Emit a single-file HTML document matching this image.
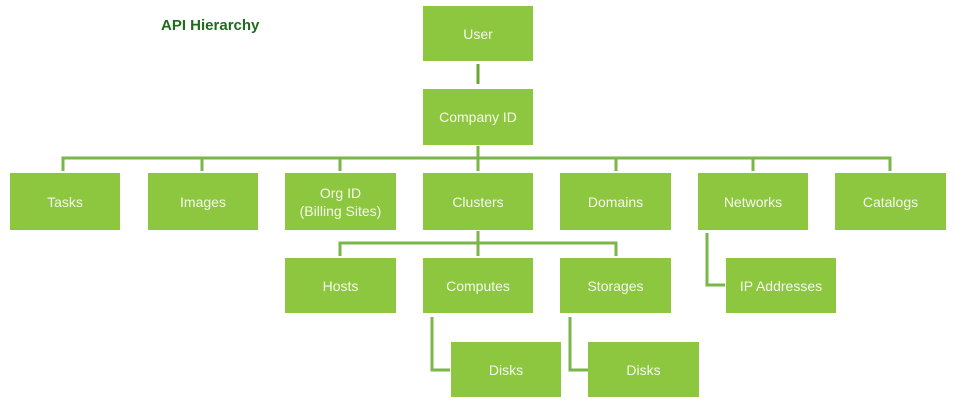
<!DOCTYPE html>
<html><head><style>
body{margin:0;width:956px;height:401px;background:#fff;position:relative;overflow:hidden;font-family:"Liberation Sans",sans-serif}
.b{position:absolute;background:#8dc63f;color:#f4faec;font-size:14px;display:flex;align-items:center;justify-content:center;text-align:center;line-height:18px}
.t{position:absolute;left:161px;top:17px;font-weight:bold;font-size:15px;color:#1e6b1e}
svg{position:absolute;left:0;top:0}
</style></head><body>
<svg width="956" height="401">
<g stroke="#7ab648" stroke-width="3" fill="none">
<line x1="478" y1="64" x2="478" y2="84" stroke="#6aa535"/>
<polyline points="63,171 63,158 890,158 890,171"/>
<line x1="478" y1="146" x2="478" y2="171"/>
<line x1="202" y1="158" x2="202" y2="171"/>
<line x1="340" y1="158" x2="340" y2="171"/>
<line x1="616" y1="158" x2="616" y2="171"/>
<line x1="753" y1="158" x2="753" y2="171"/>
<polyline points="340,256 340,243 616,243 616,256"/>
<line x1="478" y1="231" x2="478" y2="256"/>
<polyline points="432,317 432,370 450,370"/>
<polyline points="570,317 570,370 588,370"/>
<polyline points="707,233 707,285 725,285"/>
</g>
</svg>
<div class="t">API Hierarchy</div>
<div class="b" style="left:423px;top:6px;width:110px;height:55px">User</div>
<div class="b" style="left:423px;top:89px;width:110px;height:56px">Company ID</div>
<div class="b" style="left:10px;top:173px;width:110px;height:57px">Tasks</div>
<div class="b" style="left:148px;top:173px;width:110px;height:57px">Images</div>
<div class="b" style="left:285px;top:173px;width:111px;height:57px">Org ID<br>(Billing Sites)</div>
<div class="b" style="left:423px;top:173px;width:110px;height:57px">Clusters</div>
<div class="b" style="left:560px;top:173px;width:111px;height:57px">Domains</div>
<div class="b" style="left:698px;top:173px;width:110px;height:57px">Networks</div>
<div class="b" style="left:835px;top:173px;width:111px;height:57px">Catalogs</div>
<div class="b" style="left:285px;top:258px;width:111px;height:55px">Hosts</div>
<div class="b" style="left:423px;top:258px;width:110px;height:55px">Computes</div>
<div class="b" style="left:560px;top:258px;width:111px;height:55px">Storages</div>
<div class="b" style="left:726px;top:258px;width:110px;height:55px">IP Addresses</div>
<div class="b" style="left:451px;top:342px;width:110px;height:55px">Disks</div>
<div class="b" style="left:588px;top:342px;width:111px;height:55px">Disks</div>
</body></html>
